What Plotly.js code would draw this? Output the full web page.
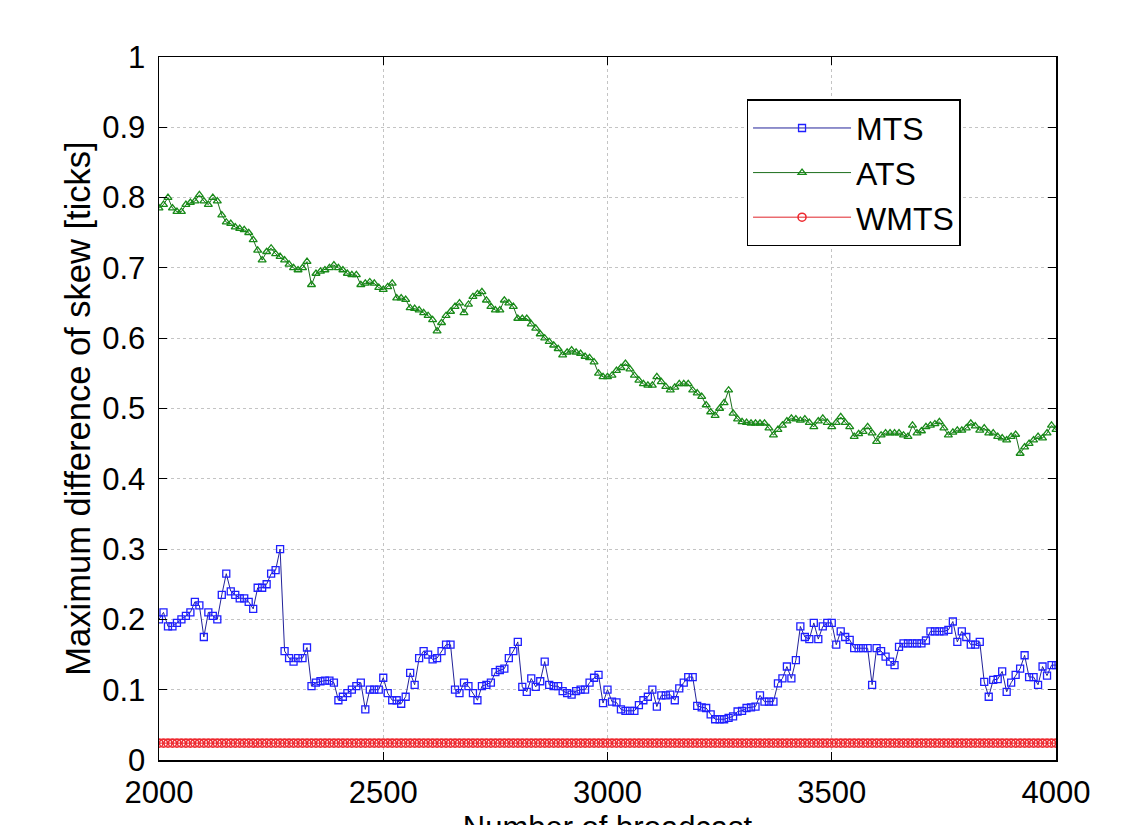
<!DOCTYPE html>
<html>
<head>
<meta charset="utf-8">
<script src="https://cdn.plot.ly/plotly-3.0.1.min.js"></script>
<style>
html,body{margin:0;padding:0;background:#fff;overflow:hidden;}
#frame{width:1122px;height:825px;overflow:hidden;position:relative;}
#chart{width:1122px;height:870px;}
</style>
</head>
<body>
<div id="frame"><div id="chart"></div></div>
<script>
// x positions: broadcast number 2000..4000 in steps of 10
const broadcastStart = 2000;
const broadcastStep = 10;

const mtsValues = [
  0.200, 0.210, 0.190, 0.190, 0.195, 0.200, 0.205, 0.210, 0.225, 0.220,
  0.175, 0.210, 0.205, 0.200, 0.235, 0.265, 0.240, 0.235, 0.230, 0.230,
  0.225, 0.215, 0.245, 0.245, 0.250, 0.265, 0.270, 0.300, 0.155, 0.145,
  0.140, 0.145, 0.145, 0.160, 0.105, 0.110, 0.112, 0.113, 0.113, 0.110,
  0.085, 0.090, 0.095, 0.100, 0.105, 0.110, 0.072, 0.100, 0.100, 0.100,
  0.117, 0.095, 0.085, 0.085, 0.080, 0.090, 0.124, 0.107, 0.145, 0.155,
  0.150, 0.143, 0.145, 0.155, 0.164, 0.164, 0.100, 0.095, 0.110, 0.105,
  0.095, 0.085, 0.105, 0.107, 0.110, 0.125, 0.128, 0.130, 0.145, 0.155,
  0.168, 0.104, 0.097, 0.116, 0.104, 0.112, 0.140, 0.107, 0.105, 0.105,
  0.098, 0.095, 0.093, 0.098, 0.100, 0.100, 0.110, 0.117, 0.121, 0.081,
  0.100, 0.083, 0.082, 0.072, 0.070, 0.070, 0.070, 0.078, 0.085, 0.090,
  0.100, 0.076, 0.092, 0.092, 0.093, 0.085, 0.102, 0.110, 0.118, 0.118,
  0.077, 0.075, 0.074, 0.065, 0.058, 0.058, 0.058, 0.060, 0.062, 0.069,
  0.070, 0.074, 0.075, 0.076, 0.092, 0.083, 0.083, 0.083, 0.109, 0.116,
  0.133, 0.116, 0.142, 0.190, 0.175, 0.172, 0.195, 0.172, 0.190, 0.195,
  0.195, 0.164, 0.183, 0.175, 0.171, 0.159, 0.159, 0.159, 0.159, 0.107,
  0.159, 0.155, 0.147, 0.140, 0.135, 0.161, 0.166, 0.166, 0.166, 0.166,
  0.166, 0.170, 0.183, 0.183, 0.183, 0.183, 0.185, 0.197, 0.168, 0.183,
  0.175, 0.164, 0.164, 0.168, 0.111, 0.090, 0.114, 0.115, 0.126, 0.097,
  0.110, 0.121, 0.130, 0.149, 0.118, 0.118, 0.107, 0.133, 0.120, 0.135,
  0.135
];

const atsValues = [
  0.785, 0.790, 0.800, 0.785, 0.780, 0.780, 0.790, 0.793, 0.795, 0.804,
  0.795, 0.790, 0.800, 0.795, 0.775, 0.765, 0.763, 0.758, 0.756, 0.754,
  0.750, 0.740, 0.725, 0.711, 0.723, 0.728, 0.720, 0.716, 0.711, 0.705,
  0.700, 0.697, 0.700, 0.709, 0.676, 0.692, 0.695, 0.697, 0.700, 0.704,
  0.700, 0.697, 0.692, 0.690, 0.690, 0.676, 0.678, 0.680, 0.678, 0.672,
  0.669, 0.673, 0.678, 0.657, 0.657, 0.655, 0.643, 0.642, 0.640, 0.636,
  0.632, 0.626, 0.610, 0.622, 0.632, 0.638, 0.645, 0.650, 0.636, 0.648,
  0.659, 0.663, 0.666, 0.654, 0.645, 0.640, 0.640, 0.654, 0.650, 0.645,
  0.628, 0.628, 0.628, 0.620, 0.614, 0.606, 0.600, 0.595, 0.590, 0.585,
  0.576, 0.580, 0.583, 0.580, 0.578, 0.574, 0.572, 0.566, 0.550, 0.545,
  0.545, 0.547, 0.554, 0.558, 0.564, 0.556, 0.547, 0.540, 0.535, 0.533,
  0.533, 0.545, 0.538, 0.531, 0.526, 0.530, 0.535, 0.535, 0.535, 0.526,
  0.522, 0.517, 0.505, 0.495, 0.490, 0.500, 0.508, 0.526, 0.493, 0.485,
  0.481, 0.480, 0.479, 0.479, 0.479, 0.479, 0.472, 0.462, 0.470, 0.476,
  0.482, 0.486, 0.485, 0.483, 0.485, 0.480, 0.474, 0.482, 0.486, 0.480,
  0.474, 0.480, 0.488, 0.480, 0.474, 0.460, 0.464, 0.467, 0.474, 0.465,
  0.453, 0.462, 0.465, 0.465, 0.465, 0.465, 0.462, 0.460, 0.476, 0.465,
  0.468, 0.474, 0.476, 0.478, 0.481, 0.472, 0.462, 0.466, 0.469, 0.469,
  0.472, 0.479, 0.475, 0.469, 0.472, 0.465, 0.465, 0.460, 0.458, 0.455,
  0.460, 0.463, 0.436, 0.445, 0.450, 0.455, 0.460, 0.458, 0.465, 0.476,
  0.470
];

const wmtsLevel = 0.024;

const seriesNames = ["MTS", "ATS", "WMTS"];
const xTickValues = [2000, 2500, 3000, 3500, 4000];
const yTickValues = [0, 0.1, 0.2, 0.3, 0.4, 0.5, 0.6, 0.7, 0.8, 0.9, 1];

const xs = mtsValues.map((_, i) => broadcastStart + i * broadcastStep);
const wmtsValues = xs.map(() => wmtsLevel);

const font = 'Arial, "Liberation Sans", Helvetica, sans-serif';

const traces = [
  {
    x: xs, y: mtsValues, name: seriesNames[0], type: 'scatter', mode: 'lines+markers',
    legendgroup: 'a',
    line: {color: '#22229a', width: 1},
    marker: {symbol: 'square-open', size: 7, color: '#1f1fff', line: {width: 1.3}}
  },
  {
    x: xs, y: atsValues, name: seriesNames[1], type: 'scatter', mode: 'lines+markers',
    legendgroup: 'b',
    line: {color: '#1c6e1c', width: 1},
    marker: {symbol: 'triangle-up-open', size: 7, color: '#188a18', line: {width: 1.3}}
  },
  {
    x: xs, y: wmtsValues, name: seriesNames[2], type: 'scatter', mode: 'lines+markers',
    legendgroup: 'c',
    line: {color: '#e0242a', width: 1},
    marker: {symbol: 'circle-open', size: 8, color: '#ee2a30', line: {width: 1.6}}
  }
];

const axisCommon = {
  showline: true, linecolor: '#000', linewidth: 1.5, mirror: 'ticks',
  ticks: 'inside', ticklen: 8, tickwidth: 1, tickcolor: '#000',
  showgrid: true, gridcolor: '#c4c4c4', gridwidth: 1, griddash: 'dot',
  zeroline: false,
  tickfont: {family: font, size: 31, color: '#000'}
};

const layout = {
  width: 1122, height: 870,
  paper_bgcolor: '#fff', plot_bgcolor: '#fff',
  margin: {l: 159, r: 66, t: 57, b: 110, pad: 0},
  showlegend: true,
  legend: {
    x: 0.655, y: 0.94, xanchor: 'left', yanchor: 'top',
    bgcolor: '#fff', bordercolor: '#000', borderwidth: 1.5,
    font: {family: font, size: 32, color: '#000'},
    itemwidth: 98,
    traceorder: 'grouped', tracegroupgap: 0
  },
  xaxis: Object.assign({}, axisCommon, {
    range: [2000, 4000], tickvals: xTickValues, ticktext: xTickValues.map(String),
    ticklabelstandoff: 4,
    title: {text: 'Number of broadcast', font: {family: font, size: 31, color: '#000'}, standoff: 0}
  }),
  yaxis: Object.assign({}, axisCommon, {
    range: [0, 1], tickvals: yTickValues, ticktext: yTickValues.map(String),
    ticklabelstandoff: 6,
    title: {text: '\u00A0\u00A0\u00A0\u00A0\u00A0\u00A0\u00A0Maximum difference of skew [ticks]', font: {family: font, size: 34.5, color: '#000'}, standoff: 1}
  })
};

Plotly.newPlot('chart', traces, layout, {displayModeBar: false, staticPlot: true});
</script>
</body>
</html>
